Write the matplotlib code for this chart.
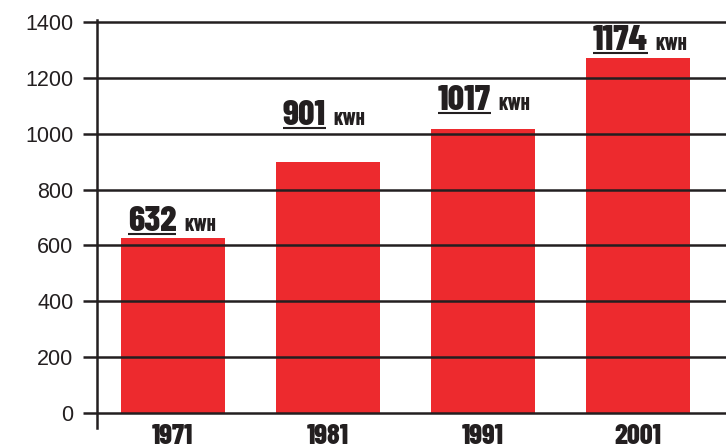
import matplotlib
matplotlib.use("Agg")
import matplotlib.pyplot as plt

# values
years = ["1971", "1981", "1991", "2001"]
bar_values = [627, 899, 1017, 1271]
value_labels = ["632", "901", "1017", "1174"]
unit = "KWH"
yticks = [0, 200, 400, 600, 800, 1000, 1200, 1400]

# where the value labels sit (baseline, in data units)
label_base = [652, 1031, 1085, 1300]

red = "#ed2a2e"
ink = "#231f20"
cond = ["Barlow Condensed", "DejaVu Sans"]

fig = plt.figure(figsize=(7.26, 4.48), dpi=100)
ax = fig.add_axes([97 / 726, 20 / 448, 629 / 726, 408 / 448])

x = list(range(len(years)))
ax.bar(x, bar_values, width=0.67, color=red, zorder=1)

ax.set_xlim(-0.49, 3.57)
ax.set_ylim(-54, 1407)

# horizontal rules, starting a little left of the axis line
for t in yticks:
    ax.plot([-0.022, 1.0], [t, t], color=ink, lw=1.8, transform=ax.get_yaxis_transform(),
            clip_on=False, zorder=3, solid_capstyle="butt")

for s in ["top", "right", "bottom"]:
    ax.spines[s].set_visible(False)
ax.spines["left"].set_color(ink)
ax.spines["left"].set_linewidth(1.8)
ax.spines["left"].set_zorder(4)

ax.set_yticks(yticks)
ax.set_yticklabels([str(t) for t in yticks], family=["Liberation Sans", "DejaVu Sans"],
                   fontsize=15.5, color=ink)
ax.tick_params(axis="y", length=0, pad=17)
ax.set_xticks([])

for i, yr in enumerate(years):
    ax.text(i, -38, yr, ha="center", va="top", family=cond, fontweight=800,
            fontsize=20.5, color=ink, clip_on=False)

# value labels with underlined number
fig.canvas.draw()
renderer = fig.canvas.get_renderer()
inv = ax.transData.inverted()
for i, lab in enumerate(value_labels):
    left = i - 0.67 / 2 + 0.045
    t = ax.text(left, label_base[i], lab, ha="left", va="baseline", family=cond,
                fontweight=800, fontsize=26, color=ink, zorder=5)
    bb = t.get_window_extent(renderer)
    x0, _ = inv.transform((bb.x0, bb.y0))
    x1, _ = inv.transform((bb.x1, bb.y0))
    _, yb = ax.transData.transform((left, label_base[i]))
    _, yu = inv.transform((0, yb - 3))
    ax.plot([x0, x1], [yu, yu], color=ink, lw=1.5, zorder=5, solid_capstyle="butt")
    ax.text(x1 + 0.05, label_base[i], unit, ha="left", va="baseline", family=cond,
            fontweight=800, fontsize=13.5, color=ink, zorder=5)

fig.savefig("out.png", dpi=100)
